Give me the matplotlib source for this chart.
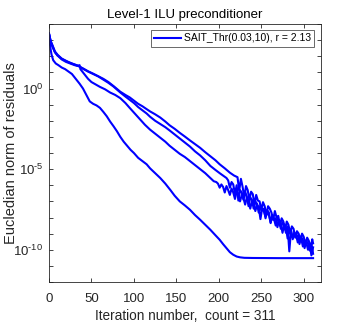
import numpy as np
import matplotlib
matplotlib.use("Agg")
import matplotlib.pyplot as plt
from matplotlib.ticker import FixedLocator, FuncFormatter

plt.rcParams['font.family'] = ['Liberation Sans', 'DejaVu Sans']
plt.rcParams['mathtext.fontset'] = 'custom'
plt.rcParams['mathtext.rm'] = 'Liberation Sans'
plt.rcParams['mathtext.it'] = 'Liberation Sans'

title = "Level-1 ILU preconditioner"
xlabel = "Iteration number,  count = 311"
ylabel = "Eucledian norm of residuals"
legend_label = "SAIT_Thr(0.03,10), r = 2.13"
xticks = [0, 50, 100, 150, 200, 250, 300]
labelled_exponents = [-10, -5, 0]

# Curve A (fastest) : iteration, log10(residual)
a_iter = [0, 1, 2, 3, 5, 8, 11, 15, 19, 23, 27, 30, 33, 36, 40, 44, 48, 52, 56, 60, 64, 68, 72, 76, 80,
          84, 88, 92, 96, 100, 105, 110, 115, 119, 125, 131, 137, 143, 148, 154, 160, 166, 172, 178, 184,
          190, 196, 201, 205, 209, 213, 217, 221, 225, 230, 240, 270, 311]
a_log = [3.4, 2.8, 2.4, 2.1, 1.75, 1.55, 1.45, 1.3, 1.2, 1.05, 0.9, 0.7, 0.5, 0.3, 0.0, -0.4, -0.8, -0.95,
         -1.05, -1.2, -1.45, -1.72, -2.05, -2.34, -2.65, -3.0, -3.3, -3.55, -3.8, -4.0, -4.3, -4.5, -4.7,
         -4.95, -5.25, -5.55, -5.9, -6.3, -6.65, -7.0, -7.25, -7.52, -7.85, -8.14, -8.45, -8.76, -9.1,
         -9.38, -9.65, -9.9, -10.15, -10.31, -10.42, -10.47, -10.5, -10.51, -10.52, -10.52]

# Curve T1 (slowest, top)
t1_iter = [0, 2, 4, 7, 10, 15, 20, 25, 30, 35, 40, 46, 52, 58, 64, 70, 76, 84, 90, 95, 100, 105, 110, 115,
           119, 125, 131, 137, 142, 148, 154, 160, 166, 172, 178, 184, 190, 196, 201, 207, 213, 218, 222,
           224, 226, 228, 230, 232, 234, 236, 238, 240, 242, 244, 246, 248, 250, 252, 254, 256, 258, 260,
           262, 264, 266, 268, 270, 272, 274, 276, 278, 280, 282, 284, 286, 288, 290, 292, 294, 296, 298,
           300, 302, 304, 306, 308, 310, 311]
t1_log = [3.4, 2.95, 2.7, 2.3, 2.1, 1.85, 1.7, 1.6, 1.48, 1.38, 1.25, 1.07, 0.92, 0.76, 0.6, 0.4, 0.15,
          -0.2, -0.4, -0.55, -0.75, -0.95, -1.1, -1.28, -1.42, -1.6, -1.8, -2.05, -2.28, -2.5, -2.75,
          -2.98, -3.22, -3.45, -3.68, -3.95, -4.2, -4.45, -4.7, -4.95, -5.22, -5.4, -5.5,
          -6.35, -5.60, -6.10, -6.75, -6.05, -6.30, -6.90, -6.40, -6.55, -7.20, -6.60, -6.95, -7.00,
          -7.55, -7.05, -7.30, -7.85, -7.30, -7.45, -7.70, -8.15, -7.60, -8.00, -7.90, -8.50, -8.05,
          -8.25, -8.75, -8.25, -8.45, -9.00, -8.55, -8.70, -9.25, -8.85, -9.00, -9.40, -9.00, -9.20,
          -9.70, -9.25, -9.45, -9.95, -9.35, -9.60]

# Curve T2
t2_iter = [0, 2, 4, 7, 10, 15, 20, 25, 30, 35, 40, 46, 52, 58, 64, 70, 76, 84, 90, 95, 100, 105, 110, 115,
           119, 125, 131, 137, 142, 148, 154, 160, 166, 172, 178, 184, 190, 196, 201, 205, 209,
           211, 213, 215, 217, 219, 221, 223, 225, 227, 229, 231, 233, 235, 237, 239, 241, 243, 245, 247,
           249, 251, 253, 255, 257, 259, 261, 263, 265, 267, 269, 271, 273, 275, 277, 279, 281, 283, 285,
           287, 289, 291, 293, 295, 297, 299, 301, 303, 305, 307, 309, 311]
t2_log = [3.4, 2.9, 2.65, 2.25, 2.05, 1.85, 1.72, 1.58, 1.5, 1.4, 1.22, 1.05, 0.9, 0.75, 0.55, 0.35, 0.12,
          -0.25, -0.5, -0.7, -0.9, -1.15, -1.35, -1.55, -1.75, -2.0, -2.2, -2.4, -2.6, -2.85, -3.1, -3.35,
          -3.6, -3.9, -4.15, -4.45, -4.8, -5.05, -5.25, -5.4, -5.55,
          -5.70, -6.15, -5.80, -5.95, -6.55, -6.00, -6.95, -6.30, -6.45, -6.90,
          -6.40, -6.70, -7.30, -6.75, -6.90, -7.45, -7.00, -7.15, -7.70, -7.25,
          -7.55, -7.45, -8.05, -7.55, -7.70, -8.35, -7.85, -8.10, -8.05, -8.60,
          -8.15, -8.40, -8.95, -8.45, -8.60, -9.30, -8.70, -8.85, -9.35, -8.95,
          -9.20, -9.10, -9.65, -9.20, -9.40, -9.90, -9.45, -9.60, -10.05, -9.60, -10.25]

# Curve T3
t3_iter = [0, 2, 4, 7, 10, 15, 20, 25, 30, 34, 36, 37, 40, 43, 46, 50, 54, 60, 66, 72, 78, 84, 90, 95, 101,
           107, 113, 119, 125, 131, 137, 142, 148, 154, 160, 166, 172, 178, 184, 190, 194, 197,
           199, 201, 203, 205, 207, 209, 211, 213, 215, 217, 219, 221, 223, 225, 227, 229, 231, 233, 235,
           237, 239, 241, 243, 245, 247, 249, 251, 253, 255, 257, 259, 261, 263, 265, 267, 269, 271, 273,
           275, 277, 279, 281, 283, 285, 287, 289, 291, 293, 295, 297, 299, 301, 303, 305, 307, 309, 311]
t3_log = [3.4, 2.9, 2.6, 2.25, 2.05, 1.8, 1.65, 1.55, 1.45, 1.4, 1.45, 1.2, 1.0, 0.8, 0.6, 0.4, 0.28, 0.1,
          -0.05, -0.25, -0.4, -0.6, -0.9, -1.2, -1.55, -1.9, -2.25, -2.55, -2.8, -3.05, -3.3, -3.55, -3.8,
          -4.05, -4.25, -4.5, -4.75, -5.0, -5.25, -5.55, -5.75, -5.8,
          -5.90, -6.15, -5.95, -6.10, -6.45, -6.05, -6.30, -6.60, -6.20, -6.45,
          -6.85, -6.40, -6.55, -7.00, -6.60, -6.80, -7.20, -6.75, -6.95, -7.45,
          -7.00, -7.15, -7.60, -7.20, -7.35, -8.10, -7.45, -7.60, -7.95, -7.70,
          -7.85, -8.30, -7.90, -8.10, -8.50, -8.05, -8.25, -8.70, -8.30, -8.45,
          -8.95, -8.55, -10.10, -8.80, -9.25, -8.95, -9.10, -9.55, -9.15, -9.30,
          -9.80, -9.40, -9.55, -10.00, -9.60, -10.35, -9.85]

fig = plt.figure(figsize=(3.54, 3.27), dpi=100)
ax = fig.add_axes([0.1384, 0.1376, 0.9060 - 0.1384, 0.9266 - 0.1376])

blue = (0, 0, 1)
curves = [(t1_iter, t1_log), (t2_iter, t2_log), (t3_iter, t3_log), (a_iter, a_log)]
for k, (it, lg) in enumerate(curves):
    ax.semilogy(it, np.power(10.0, lg), color=blue, lw=1.5,
                label=legend_label if k == 0 else '_nolegend_')

ax.set_xlim(0, 320)
ax.set_ylim(1e-12, 1e4)
ax.set_xticks(xticks)
ax.yaxis.set_major_locator(FixedLocator([10.0 ** e for e in range(-12, 5)]))
ax.yaxis.set_minor_locator(FixedLocator([]))

def yfmt(v, pos):
    e = int(round(np.log10(v)))
    if e not in labelled_exponents:
        return ''
    s = str(e).replace('-', '\u2010')
    return r'$10^{%s}$' % s

ax.yaxis.set_major_formatter(FuncFormatter(yfmt))
edge = (0.15, 0.15, 0.15)
for s in ax.spines.values():
    s.set_color(edge)
    s.set_linewidth(0.6)
ax.tick_params(which='both', direction='in', top=True, right=True, length=3, width=0.6,
               colors=edge, labelsize=9.5, labelcolor=(0.15, 0.15, 0.15))
ax.tick_params(axis='x', pad=8)
ax.tick_params(axis='y', pad=4)
ax.set_title(title, fontsize=9.5, color='black', pad=4)
ax.set_xlabel(xlabel, fontsize=9.8, color=(0.15, 0.15, 0.15), labelpad=3)
ax.set_ylabel(ylabel, fontsize=10.5, color=(0.15, 0.15, 0.15))
ax.yaxis.label.set_va('center')
ax.yaxis.set_label_coords(-0.14, 0.5)

leg = ax.legend(loc='upper right', fontsize=7.5, frameon=True, fancybox=False, handlelength=2.6,
                borderpad=0.3, handletextpad=0.3, borderaxespad=0.6)
leg.get_frame().set_edgecolor(edge)
leg.get_frame().set_linewidth(0.6)

fig.savefig('out.png', dpi=100)
